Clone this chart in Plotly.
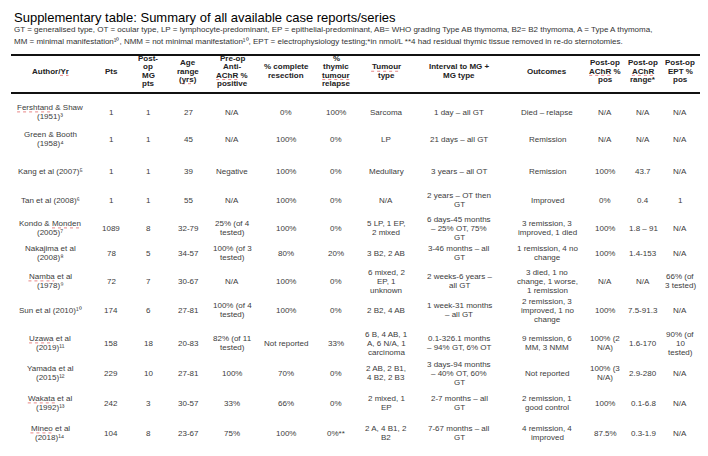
import plotly.graph_objects as go

# ---------------- data ----------------
title = "Supplementary table: Summary of all available case reports/series"
subtitle_lines = [
    "GT = generalised type, OT = ocular type, LP = lymphocyte-predominant, EP = epithelial-predominant, AB= WHO grading Type AB thymoma, B2= B2 thymoma, A = Type A thymoma,",
    "MM = minimal manifestation¹⁰, NMM = not minimal manifestation¹⁰, EPT = electrophysiology testing;*in nmol/L **4 had residual thymic tissue removed in re-do sternotomies.",
]

headers = ["Author/Yr", "Pts", "Post-<br>op<br>MG<br>pts", "Age<br>range<br>(yrs)",
           "Pre-op<br>Anti-<br>AChR %<br>positive", "% complete<br>resection",
           "%<br>thymic<br>tumour<br>relapse", "Tumour<br>type", "Interval to MG +<br>MG type",
           "Outcomes", "Post-op<br>AChR %<br>pos", "Post-op<br>AChR<br>range*", "Post-op<br>EPT %<br>pos"]

authors = ["Fershtand & Shaw<br>(1951)", "Green & Booth<br>(1958)", "Kang et al (2007)",
           "Tan et al (2008)", "Kondo & Monden<br>(2005)", "Nakajima et al<br>(2008)",
           "Namba et al<br>(1978)", "Sun et al (2010)", "Uzawa et al<br>(2019)",
           "Yamada et al<br>(2015)", "Wakata et al<br>(1992)", "Mineo et al<br>(2018)"]
refs = [3, 4, 5, 6, 7, 8, 9, 10, 11, 12, 13, 14]
pts = [1, 1, 1, 1, 1089, 78, 72, 174, 158, 229, 242, 104]
mg_pts = [1, 1, 1, 1, 8, 5, 7, 6, 18, 10, 3, 8]
age_range = ["27", "45", "39", "55", "32-79", "34-57", "30-67", "27-81", "20-83", "27-81", "30-57", "23-67"]
preop_achr = ["N/A", "N/A", "Negative", "N/A", "25% (of 4<br>tested)", "100% (of 3<br>tested)", "N/A",
              "100% (of 4<br>tested)", "82% (of 11<br>tested)", "100%", "33%", "75%"]
resection = ["0%", "100%", "100%", "100%", "100%", "80%", "100%", "100%", "Not reported", "70%", "66%", "100%"]
relapse = ["100%", "0%", "0%", "0%", "0%", "20%", "0%", "0%", "33%", "0%", "0%", "0%**"]
tumour_type = ["Sarcoma", "LP", "Medullary", "N/A", "5 LP, 1 EP,<br>2 mixed", "3 B2, 2 AB",
               "6 mixed, 2<br>EP, 1<br>unknown", "2 B2, 4 AB", "6 B, 4 AB, 1<br>A, 6 N/A, 1<br>carcinoma",
               "2 AB, 2 B1,<br>4 B2, 2 B3", "2 mixed, 1<br>EP", "2 A, 4 B1, 2<br>B2"]
interval = ["1 day – all GT", "21 days – all GT", "3 years – all OT", "2 years – OT then<br>GT",
            "6 days-45 months<br>– 25% OT, 75%<br>GT", "3-46 months – all<br>GT", "2 weeks-6 years –<br>all GT",
            "1 week-31 months<br>– all GT", "0.1-326.1 months<br>– 94% GT, 6% OT",
            "3 days-94 months<br>– 40% OT, 60%<br>GT", "2-7 months – all<br>GT", "7-67 months – all<br>GT"]
outcomes = ["Died – relapse", "Remission", "Remission", "Improved", "3 remission, 3<br>improved, 1 died",
            "1 remission, 4 no<br>change", "3 died, 1 no<br>change, 1 worse,<br>1 remission",
            "2 remission, 3<br>improved, 1 no<br>change", "9 remission, 6<br>MM, 3 NMM", "Not reported",
            "2 remission, 1<br>good control", "4 remission, 4<br>improved"]
postop_pos = ["N/A", "N/A", "100%", "0%", "100%", "100%", "N/A", "100%", "100% (2<br>N/A)",
              "100% (3<br>N/A)", "100%", "87.5%"]
postop_range = ["N/A", "N/A", "43.7", "0.4", "1.8 – 91", "1.4-153", "N/A", "7.5-91.3", "1.6-170",
                "2.9-280", "0.1-6.8", "0.3-1.9"]
ept_pos = ["N/A", "N/A", "N/A", "1", "N/A", "N/A", "66% (of<br>3 tested)", "N/A", "90% (of<br>10<br>tested)",
           "N/A", "N/A", "N/A"]

# words flagged by the spell-checker in the original (red wavy underline)
flagged_words = ["Fershtand", "Monden", "Namba", "Uzawa", "Wakata", "Mineo", "Yr", "yrs", "AChR",
                 "Tumour", "tumour"]

# ---------------- layout (pixel positions) ----------------
W, H = 708, 456
col_x = [42, 103, 140, 180, 224, 278, 328, 378, 451, 539, 597, 635, 672]
row_y = [104, 131, 163, 192, 220, 245, 273, 302, 335, 365, 395, 425]
header_y = 63
rule_top, rule_head, rule_bottom = 47, 85, 451
body_lh, head_lh = 9.0, 8.3
FONT = "Liberation Sans, Arial, sans-serif"
BODY_SIZE, HEAD_SIZE = 8, 8
body_font = dict(family=FONT, size=BODY_SIZE, color="#3c3c3c")
head_font = dict(family=FONT, size=HEAD_SIZE, color="#222222")

SUP = str.maketrans("0123456789", "⁰¹²³⁴⁵⁶⁷⁸⁹")

# approximate Arial advance widths (per 1000 em) for underline placement
REG = dict(zip("abcdefghijklmnopqrstuvwxyz", [556, 556, 500, 556, 556, 278, 556, 556, 222, 222, 500, 222, 833,
                                               556, 556, 556, 556, 333, 500, 278, 556, 500, 722, 500, 500, 500]))
BLD = dict(zip("abcdefghijklmnopqrstuvwxyz", [556, 611, 556, 611, 556, 333, 611, 611, 278, 278, 556, 278, 889,
                                               611, 611, 611, 611, 389, 556, 333, 611, 556, 778, 556, 556, 500]))
UP_R = dict(A=667, B=667, C=722, D=722, E=667, F=611, G=778, H=722, I=278, K=667, L=556, M=833, N=722, O=778,
            P=667, R=722, S=667, T=611, U=722, W=944, Y=667)
UP_B = dict(A=722, B=722, C=722, D=722, E=667, F=611, G=778, H=722, I=278, K=722, L=611, M=833, N=722, O=778,
            P=667, R=722, S=667, T=611, U=722, W=944, Y=667)
OTH = {" ": 278, "&": 667, "(": 333, ")": 333, "/": 278, "%": 889, "-": 333, "+": 584, "*": 389, ".": 278,
       ",": 278}


def text_w(s, size, bold=False):
    tot = 0
    for ch in s:
        if ch.isdigit() and ch.isascii():
            w = 556
        elif ch in "⁰¹²³⁴⁵⁶⁷⁸⁹":
            w = 333
        elif ch.islower():
            w = (BLD if bold else REG).get(ch, 556)
        elif ch.isupper():
            w = (UP_B if bold else UP_R).get(ch, 722)
        else:
            w = OTH.get(ch, 556)
        tot += w
    return tot * size / 1000.0


columns = [
    [f"{a}{str(r).translate(SUP)}" for a, r in zip(authors, refs)],
    [str(v) for v in pts], [str(v) for v in mg_pts], age_range, preop_achr, resection,
    relapse, tumour_type, interval, outcomes, postop_pos, postop_range, ept_pos,
]

annotations = []
shapes = []


def add_cell(text, x, yc, lh, font, bold=False):
    lines = text.split("<br>")
    n = len(lines)
    for i, ln in enumerate(lines):
        y = yc + (i - (n - 1) / 2) * lh
        annotations.append(dict(
            x=x, y=y, xref="x", yref="y", text=(f"<b>{ln}</b>" if bold else ln),
            showarrow=False, xanchor="center", yanchor="middle", font=font, borderpad=0,
        ))
        full_w = text_w(ln, font["size"], bold)
        left = x - full_w / 2
        for wd in flagged_words:
            idx = ln.find(wd)
            if idx >= 0 and (idx + len(wd) == len(ln) or not ln[idx + len(wd)].isalpha()):
                x0 = left + text_w(ln[:idx], font["size"], bold)
                x1 = x0 + text_w(wd, font["size"], bold)
                shapes.append(dict(type="line", xref="x", yref="y", x0=x0, x1=x1, y0=y + 4.4, y1=y + 4.4,
                                   line=dict(color="rgba(215,50,50,0.75)", width=0.8, dash="dot")))
                break


for c, h in enumerate(headers):
    add_cell(h, col_x[c], header_y, head_lh, head_font, bold=True)

for c, col in enumerate(columns):
    for r, txt in enumerate(col):
        add_cell(txt, col_x[c], row_y[r], body_lh, body_font)

# title & subtitles
annotations.append(dict(x=4, y=9, xref="x", yref="y", text=title, showarrow=False,
                        xanchor="left", yanchor="middle",
                        font=dict(family="Liberation Sans Narrow, Arial Narrow, Liberation Sans", size=13,
                                  color="#000000")))
for i, s in enumerate(subtitle_lines):
    annotations.append(dict(x=4, y=21 + 12 * i, xref="x", yref="y", text=s, showarrow=False,
                            xanchor="left", yanchor="middle",
                            font=dict(family=FONT, size=8, color="#333333")))

for yy, lw in [(rule_top, 2.2), (rule_head, 2.2), (rule_bottom, 2.4)]:
    shapes.append(dict(type="line", xref="x", yref="y", x0=3, x1=705, y0=yy, y1=yy,
                       line=dict(color="#111111", width=lw)))

fig = go.Figure()
fig.update_layout(
    width=W, height=H, margin=dict(l=0, r=0, t=0, b=0),
    paper_bgcolor="white", plot_bgcolor="white",
    xaxis=dict(range=[0, W], visible=False, fixedrange=True),
    yaxis=dict(range=[H, 0], visible=False, fixedrange=True),
    annotations=annotations, shapes=shapes, showlegend=False,
)
fig.write_html("out.html")
